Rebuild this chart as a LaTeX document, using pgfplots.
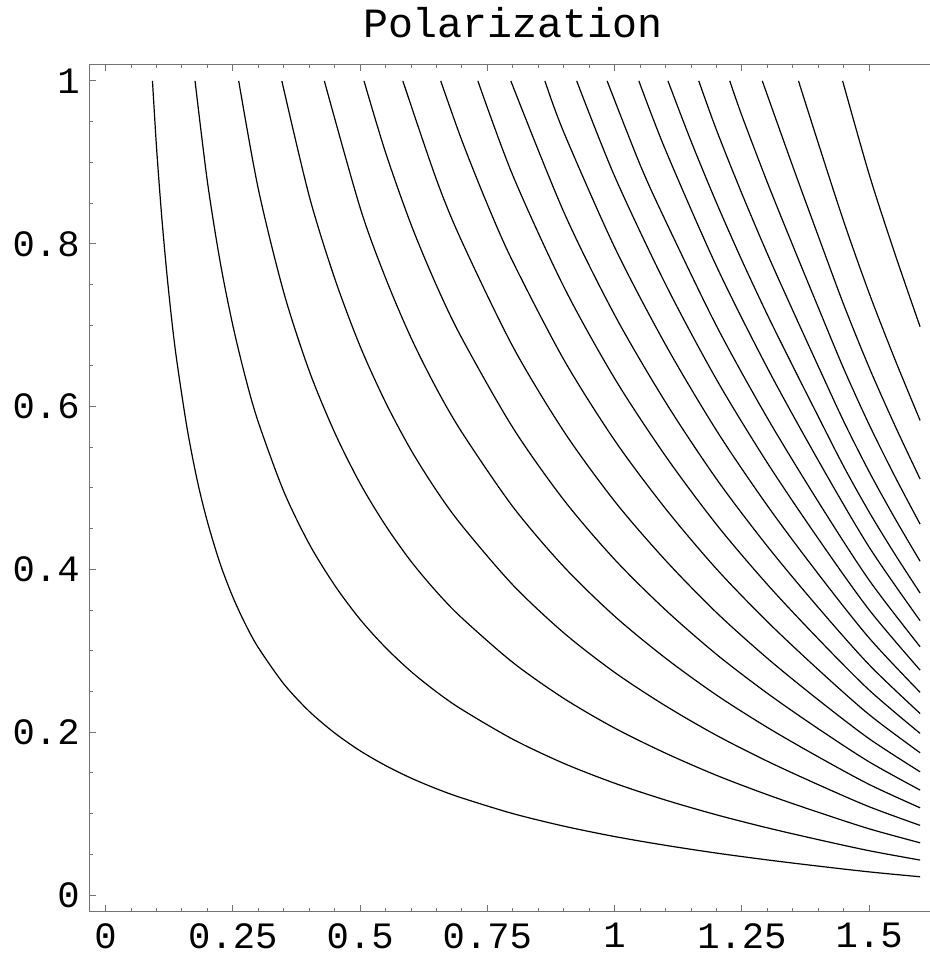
\documentclass[border=0pt]{standalone}
\usepackage{pgfplots}
\pgfplotsset{compat=1.18}
\usepackage{fontspec}
\setmainfont{Liberation Mono}
\definecolor{framegray}{gray}{0.45}
\pgfplotsset{curve/.style={black, line width=0.6pt, smooth, tension=0.5, mark=none}}
\begin{document}
\begin{tikzpicture}
\begin{axis}[
 scale only axis, width=423.55pt, height=423.7pt,
 xmin=-0.032, xmax=1.632, ymin=-0.0204, ymax=1.0204,
 xtick={0,0.25,0.5,0.75,1,1.25,1.5},
 xticklabels={0,0.25,0.5,0.75,1,1.25,1.5},
 ytick={0,0.2,0.4,0.6,0.8,1},
 yticklabels={0,0.2,0.4,0.6,0.8,1},
 minor x tick num=4, minor y tick num=3,
 tick align=inside,
 major tick length=3.2pt, minor tick length=2pt,
 every tick/.style={framegray, line width=0.5pt},
 axis line style={framegray, line width=0.65pt},
 ticklabel style={font=\fontsize{18.6}{22}\selectfont},
 xticklabel style={anchor=north, inner sep=0pt, yshift=-5.65pt},
 yticklabel style={anchor=east, inner sep=0pt, xshift=-4.65pt},
 title={Polarization},
 title style={at={(0.5,1)}, anchor=base, yshift=7.5pt, inner sep=0pt, font=\fontsize{20.8}{24}\selectfont},
 /pgf/number format/assume math mode=true,
]
\coordinate (bl) at (rel axis cs:0,0);
\coordinate (tr) at (rel axis cs:1,1);
% curve 1
\addplot[curve] coordinates {(0.0921,1) (0.1,0.919) (0.11,0.8354) (0.12,0.7657) (0.13,0.7061) (0.14,0.6557) (0.16,0.5738) (0.18,0.5094) (0.2,0.4586) (0.225,0.4070) (0.25,0.3661) (0.275,0.3323) (0.3,0.3040) (0.35,0.2594) (0.4,0.2257) (0.45,0.1991) (0.5,0.1772) (0.55,0.1591) (0.6,0.1437) (0.65,0.1306) (0.7,0.1193) (0.8,0.1001) (0.9,0.0847) (1.0,0.0719) (1.1,0.0611) (1.2,0.0516) (1.3,0.0432) (1.4,0.0356) (1.5,0.0285) (1.6,0.0225)};
% curve 2
\addplot[curve] coordinates {(0.1757,1) (0.2,0.8763) (0.225,0.7779) (0.25,0.6996) (0.275,0.6351) (0.3,0.5809) (0.35,0.4958) (0.4,0.4313) (0.45,0.3805) (0.5,0.3386) (0.55,0.3040) (0.6,0.2746) (0.65,0.2496) (0.7,0.2279) (0.8,0.1914) (0.9,0.1618) (1.0,0.1374) (1.1,0.1167) (1.2,0.0986) (1.3,0.0826) (1.4,0.0681) (1.5,0.0545) (1.6,0.043)};
% curve 3
\addplot[curve] coordinates {(0.2615,1) (0.3,0.8673) (0.35,0.7402) (0.4,0.6439) (0.45,0.5681) (0.5,0.5056) (0.55,0.4539) (0.6,0.4099) (0.65,0.3726) (0.7,0.3403) (0.8,0.2857) (0.9,0.2416) (1.0,0.2051) (1.1,0.1743) (1.2,0.1471) (1.3,0.1233) (1.4,0.1017) (1.5,0.0814) (1.6,0.0642)};
% curve 4
\addplot[curve] coordinates {(0.3462,1) (0.4,0.8586) (0.45,0.7575) (0.5,0.6741) (0.55,0.6052) (0.6,0.5466) (0.65,0.4968) (0.7,0.4538) (0.8,0.3809) (0.9,0.3221) (1.0,0.2735) (1.1,0.2324) (1.2,0.1962) (1.3,0.1644) (1.4,0.1356) (1.5,0.1085) (1.6,0.0856)};
% curve 5
\addplot[curve] coordinates {(0.4297,1) (0.5,0.8442) (0.55,0.7579) (0.6,0.6845) (0.65,0.6222) (0.7,0.5683) (0.8,0.4770) (0.9,0.4034) (1.0,0.3425) (1.1,0.2910) (1.2,0.2457) (1.3,0.2059) (1.4,0.1698) (1.5,0.1359) (1.6,0.1072)};
% curve 6
\addplot[curve] coordinates {(0.5076,1) (0.55,0.9120) (0.6,0.8237) (0.65,0.7487) (0.7,0.6838) (0.8,0.5741) (0.9,0.4854) (1.0,0.4122) (1.1,0.3502) (1.2,0.2957) (1.3,0.2478) (1.4,0.2043) (1.5,0.1636) (1.6,0.129)};
% curve 7
\addplot[curve] coordinates {(0.5839,1) (0.65,0.8787) (0.7,0.8026) (0.8,0.6737) (0.9,0.5697) (1.0,0.4837) (1.1,0.4111) (1.2,0.3470) (1.3,0.2908) (1.4,0.2398) (1.5,0.1920) (1.6,0.1514)};
% curve 8
\addplot[curve] coordinates {(0.6583,1) (0.7,0.9266) (0.75,0.8483) (0.8,0.7779) (0.9,0.6578) (1.0,0.5585) (1.1,0.4746) (1.2,0.4006) (1.3,0.3358) (1.4,0.2769) (1.5,0.2216) (1.6,0.1748)};
% curve 9
\addplot[curve] coordinates {(0.7313,1) (0.8,0.8838) (0.9,0.7473) (1.0,0.6345) (1.1,0.5392) (1.2,0.4552) (1.3,0.3815) (1.4,0.3146) (1.5,0.2518) (1.6,0.1986)};
% curve 10
\addplot[curve] coordinates {(0.796,1) (0.9,0.8391) (1.0,0.7125) (1.1,0.6054) (1.2,0.5111) (1.3,0.4284) (1.4,0.3532) (1.5,0.2828) (1.6,0.223)};
% curve 11
\addplot[curve] coordinates {(0.863,1) (0.9,0.9370) (1.0,0.7956) (1.1,0.6760) (1.2,0.5707) (1.3,0.4783) (1.4,0.3944) (1.5,0.3157) (1.6,0.249)};
% curve 12
\addplot[curve] coordinates {(0.9254,1) (1.0,0.8828) (1.1,0.7502) (1.2,0.6333) (1.3,0.5308) (1.4,0.4377) (1.5,0.3503) (1.6,0.2763)};
% curve 13
\addplot[curve] coordinates {(0.9852,1) (1.05,0.8970) (1.1,0.8281) (1.2,0.6991) (1.3,0.5859) (1.4,0.4831) (1.5,0.3867) (1.6,0.305)};
% curve 14
\addplot[curve] coordinates {(1.0475,1) (1.1,0.9150) (1.2,0.7724) (1.3,0.6474) (1.4,0.5338) (1.5,0.4273) (1.6,0.337)};
% curve 15
\addplot[curve] coordinates {(1.1047,1) (1.15,0.9260) (1.2,0.8503) (1.25,0.7795) (1.3,0.7127) (1.35,0.6496) (1.4,0.5877) (1.45,0.5264) (1.5,0.4704) (1.55,0.4192) (1.6,0.371)};
% curve 16
\addplot[curve] coordinates {(1.1652,1) (1.2,0.9397) (1.25,0.8614) (1.3,0.7876) (1.35,0.7179) (1.4,0.6494) (1.45,0.5818) (1.5,0.5199) (1.55,0.4633) (1.6,0.410)};
% curve 17
\addplot[curve] coordinates {(1.2261,1) (1.25,0.9572) (1.3,0.8752) (1.35,0.7977) (1.4,0.7217) (1.45,0.6465) (1.5,0.5777) (1.55,0.5148) (1.6,0.4556)};
% curve 18
\addplot[curve] coordinates {(1.290,1) (1.35,0.8948) (1.4,0.8094) (1.45,0.7251) (1.5,0.6479) (1.55,0.5774) (1.6,0.511)};
% curve 19
\addplot[curve] coordinates {(1.3611,1) (1.4,0.9235) (1.45,0.8273) (1.5,0.7392) (1.55,0.6588) (1.6,0.583)};
% curve 20
\addplot[curve] coordinates {(1.4478,1) (1.5,0.8851) (1.55,0.7887) (1.6,0.698)};
\end{axis}
\pgfresetboundingbox
\path[use as bounding box] ([shift={(-44.65pt,-21.65pt)}]bl) rectangle ([shift={(-3.2pt,32.15pt)}]tr);
\end{tikzpicture}
\end{document}
